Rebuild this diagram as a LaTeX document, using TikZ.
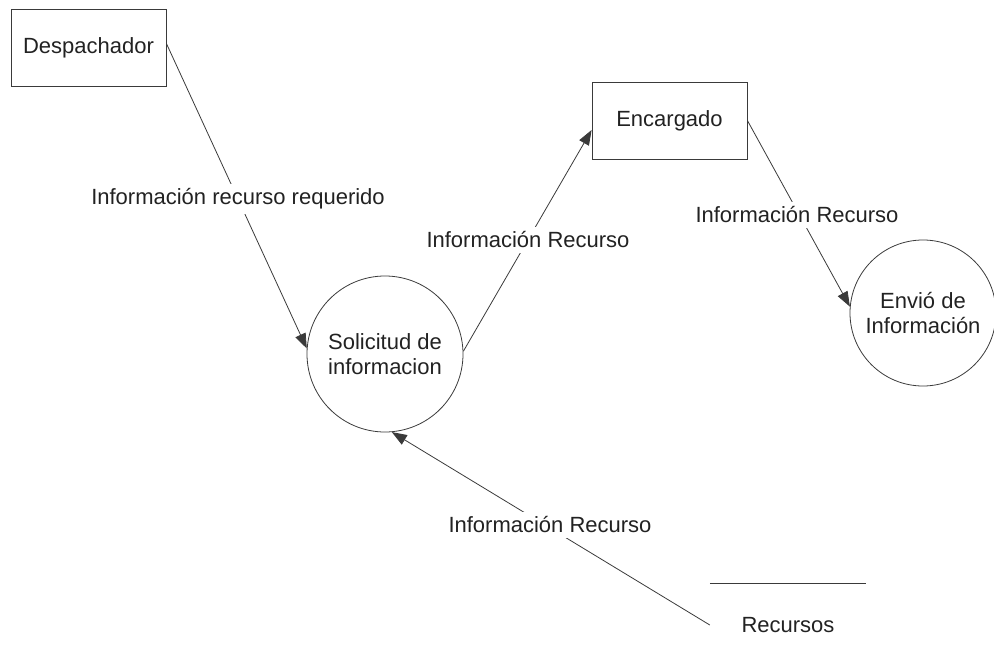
\documentclass[tikz,border=0pt]{standalone}
\usepackage{fontspec}
\setmainfont{Liberation Sans}
\usetikzlibrary{arrows.meta}
\definecolor{ink}{HTML}{3A3A3A}
\definecolor{txt}{HTML}{222222}
\begin{document}
\begin{tikzpicture}[x=1pt,y=-1pt,
  every node/.style={font=\fontsize{22}{25}\selectfont, text=txt, align=center},
  entity/.style={draw=ink, line width=0.8pt, inner sep=0pt},
  process/.style={draw=ink, line width=0.8pt, circle, inner sep=0pt},
  flow/.style={draw=ink, line width=0.8pt, -{Triangle[length=15pt,width=11pt]}},
  plain/.style={draw=ink, line width=0.8pt},
  flowlabel/.style={fill=white, inner xsep=2pt, inner ysep=5pt}]
\useasboundingbox (0,0) rectangle (994,658);

% external entities
\node[entity, minimum width=155pt, minimum height=77pt] (desp) at (88.5,47.5) {Despachador};
\node[entity, minimum width=155pt, minimum height=77pt] (enc) at (669.5,120.5) {Encargado};

% processes
\node[process, minimum size=156pt] (sol) at (385,354) {Solicitud de\\informacion};
\node[process, minimum size=146pt] (env) at (923,313) {Envió de\\Información};

% data store
\node[inner sep=0pt, minimum width=156pt, minimum height=82pt] (rec) at (788,625) {Recursos};
\draw[plain] (rec.north west) -- (rec.north east);

% data flows
\draw[flow] ([yshift=4pt]desp.east) -- (sol.176);
\draw[flow] (sol.2) -- ([yshift=-9.5pt]enc.west);
\draw[flow] (enc.east) -- (env.175);
\draw[flow] (rec.west) -- (sol.275);

% flow labels, drawn over the flows
\node[flowlabel] (l1) at (238,199) {Información recurso requerido};
\node[flowlabel] (l2) at (528,240) {Información Recurso};
\node[flowlabel] (l3) at (797,215) {Información Recurso};
\node[flowlabel] (l4) at (550,525) {Información Recurso};
\end{tikzpicture}
\end{document}
